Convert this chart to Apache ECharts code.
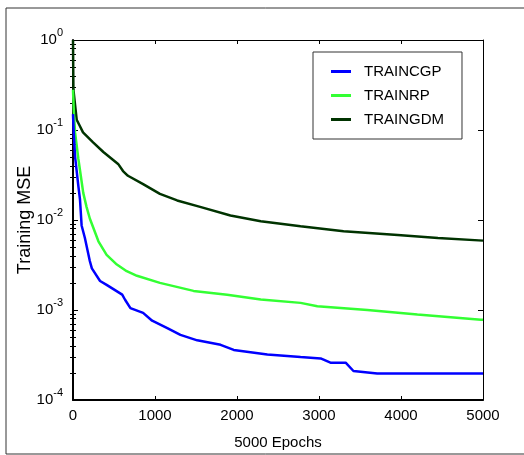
<!DOCTYPE html>
<html>
<head>
<meta charset="utf-8">
<script src="https://cdn.jsdelivr.net/npm/echarts@6/dist/echarts.min.js"></script>
<style>
  html, body { margin: 0; padding: 0; background: #fff; }
  #app { width: 524px; height: 455px; }
</style>
</head>
<body>
<div id="app"></div>
<script>
// values
const seriesNames = ['TRAINCGP', 'TRAINRP', 'TRAINGDM'];
const xTicks = [0, 1000, 2000, 3000, 4000, 5000];

const cgpEpochs = [0, 10, 25, 65, 85, 105, 145, 205, 230, 330, 410, 600, 635, 700, 855, 965, 1150, 1310, 1515, 1800, 1960, 2370, 2775, 3020, 3140, 3325, 3420, 3710, 5000];
const cgpMse = [0.15, 0.09, 0.051, 0.024, 0.017, 0.0087, 0.0063, 0.0035, 0.0029, 0.0021, 0.0019, 0.00148, 0.0013, 0.00105, 0.00093, 0.00076, 0.00063, 0.00053, 0.00046, 0.00041, 0.00036, 0.00032, 0.0003, 0.00029, 0.00026, 0.00026, 0.00021, 0.000197, 0.000197];

const rpEpochs = [0, 10, 25, 65, 95, 125, 165, 205, 250, 310, 410, 535, 655, 780, 1060, 1470, 1880, 2290, 2775, 2980, 3590, 4200, 4975, 5000];
const rpMse = [0.28, 0.16, 0.094, 0.048, 0.031, 0.020, 0.014, 0.0104, 0.0081, 0.0058, 0.0041, 0.0032, 0.0027, 0.0024, 0.0020, 0.00163, 0.00148, 0.00131, 0.0012, 0.0011, 0.001, 0.00089, 0.00078, 0.00078];

const gdmEpochs = [0, 5, 45, 85, 122, 245, 370, 550, 610, 670, 855, 1060, 1270, 1550, 1920, 2290, 2775, 3300, 3960, 4450, 5000];
const gdmMse = [1.0, 0.28, 0.13, 0.11, 0.094, 0.073, 0.057, 0.042, 0.035, 0.031, 0.025, 0.0195, 0.0165, 0.014, 0.0112, 0.0097, 0.0085, 0.0075, 0.0068, 0.0063, 0.0059];

const colors = ['#0000ff', '#33ff33', '#003300'];

// log minor ticks 2..9 x 10^n
const minorTicks = [];
for (let e = -4; e < 0; e++) {
  for (let m = 2; m <= 9; m++) minorTicks.push(m * Math.pow(10, e));
}

const zip = (xs, ys) => xs.map((x, i) => [x, ys[i]]);

const chart = echarts.init(document.getElementById('app'));

const font = 'Arial, "Liberation Sans", sans-serif';

const yBase = {
  type: 'log',
  logBase: 10,
  min: 0.0001,
  max: 1,
  splitLine: { show: false },
  axisLabel: { show: false },
};

const option = {
  animation: false,
  backgroundColor: '#fff',
  grid: { left: 73, top: 40, right: 41, bottom: 52 },
  graphic: [{
    type: 'rect',
    shape: { x: 6, y: 8, width: 540, height: 446 },
    style: { fill: 'none', stroke: '#333', lineWidth: 1 },
    z: -1
  }],
  legend: {
    data: seriesNames,
    orient: 'vertical',
    left: 313,
    top: 52,
    padding: [12, 18, 12, 18],
    itemGap: 9,
    itemWidth: 20,
    itemHeight: 3,
    icon: 'rect',
    backgroundColor: '#fff',
    borderColor: '#333',
    borderWidth: 1,
    borderRadius: 0,
    textStyle: { fontFamily: font, fontSize: 15, color: '#000', padding: [0, 0, 0, 8] }
  },
  xAxis: [{
    type: 'value',
    min: 0,
    max: 5000,
    interval: 1000,
    name: '5000 Epochs',
    nameLocation: 'middle',
    nameGap: 35,
    nameTextStyle: { fontFamily: font, fontSize: 15, color: '#000' },
    axisLine: { show: true, onZero: false, lineStyle: { color: '#000', width: 2 } },
    axisTick: { inside: true, length: 4, lineStyle: { color: '#000' } },
    axisLabel: { fontFamily: font, fontSize: 15, color: '#000', margin: 8,
      customValues: xTicks, formatter: v => String(v) },
    splitLine: { show: false }
  }, {
    type: 'value',
    min: 0,
    max: 5000,
    interval: 1000,
    position: 'top',
    axisLine: { show: true, onZero: false, lineStyle: { color: '#000', width: 1 } },
    axisTick: { inside: true, length: 4, lineStyle: { color: '#000' } },
    axisLabel: { show: false },
    splitLine: { show: false }
  }],
  yAxis: [Object.assign({}, yBase, {
    position: 'left',
    name: 'Training MSE',
    nameLocation: 'middle',
    nameGap: 39,
    nameMoveOverlap: false,
    nameTextStyle: { fontFamily: font, fontSize: 18, color: '#000' },
    axisLine: { show: true, onZero: false, lineStyle: { color: '#000', width: 2 } },
    axisTick: { inside: true, length: 5, lineStyle: { color: '#000' } },
    axisLabel: {
      show: true,
      margin: 10,
      formatter: v => '{b|10}{s|' + Math.round(Math.log10(v)) + '}',
      rich: {
        b: { fontFamily: font, fontSize: 15, color: '#000', lineHeight: 16, verticalAlign: 'middle' },
        s: { fontFamily: font, fontSize: 11, color: '#000', lineHeight: 11, padding: [0, 0, 14, 0], verticalAlign: 'middle' }
      }
    }
  }), Object.assign({}, yBase, {
    position: 'left',
    axisLine: { show: false },
    axisTick: { inside: true, length: 3, customValues: minorTicks, lineStyle: { color: '#000' } }
  }), Object.assign({}, yBase, {
    position: 'right',
    axisLine: { show: true, onZero: false, lineStyle: { color: '#000', width: 1 } },
    axisTick: { inside: true, length: 5, lineStyle: { color: '#000' } }
  }), Object.assign({}, yBase, {
    position: 'right',
    axisLine: { show: false },
    axisTick: { inside: true, length: 3, customValues: minorTicks, lineStyle: { color: '#000' } }
  })],
  series: [
    { name: seriesNames[0], data: zip(cgpEpochs, cgpMse) },
    { name: seriesNames[1], data: zip(rpEpochs, rpMse) },
    { name: seriesNames[2], data: zip(gdmEpochs, gdmMse) }
  ].map((s, i) => Object.assign(s, {
    type: 'line',
    xAxisIndex: 0,
    yAxisIndex: 0,
    showSymbol: false,
    symbol: 'none',
    color: colors[i],
    lineStyle: { width: 2.5, color: colors[i] },
    z: 3 - i
  }))
};

chart.setOption(option);
</script>
</body>
</html>
